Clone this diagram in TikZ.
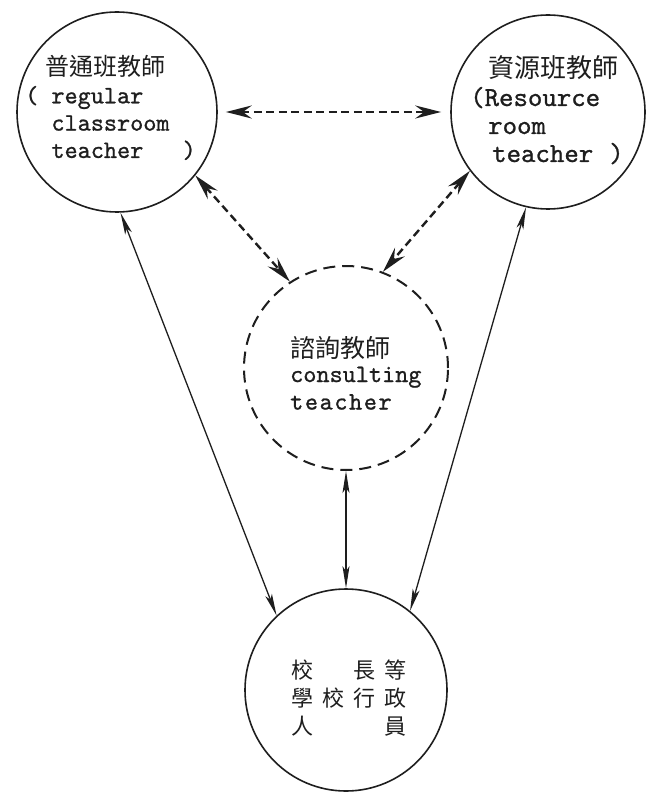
\documentclass[tikz,border=0pt]{standalone}
\usepackage{fontspec}
\newfontfamily\cjk{Noto Sans CJK TC}
\newfontfamily\mono{lmmono10-regular}[Extension=.otf, FakeBold=0.9]
\usetikzlibrary{arrows.meta}
\definecolor{ink}{HTML}{1E1E1E}
\begin{document}
\begin{tikzpicture}[x=1pt,y=-1pt,
  circ/.style={circle, draw=ink, line width=1.6pt, inner sep=0pt},
  dcirc/.style={circle, draw=ink, line width=2pt, dash pattern=on 12pt off 7pt, inner sep=0pt},
  txt/.style={inner sep=0pt, anchor=base west, text=ink},
  stip/.tip={Stealth[length=22pt,width=7pt,inset=5pt]},
  dtip/.tip={Stealth[length=26pt,width=13pt,inset=9pt]},
  solidlink/.style={draw=ink, line width=1.3pt, stip-stip},
  dashlink/.style={draw=ink, line width=2.4pt, dash pattern=on 8pt off 4.5pt, dtip-dtip}
]
\fill[white] (0,0) rectangle (646,794);
\useasboundingbox (0,0) rectangle (646,794);

% circles
\node[circ, minimum size=200pt] (L) at (117,112) {};
\node[circ, minimum size=194pt] (R) at (548,112) {};
\node[dcirc, minimum size=204pt] (M) at (346,368) {};
\node[circ, minimum size=202pt] (B) at (346,690) {};

% texts
\node[txt, font=\fontsize{25}{27.3}\selectfont\mono] (Lt) at (25,76)
  {\begin{tabular}[t]{@{}l@{}}\hspace*{20pt}{\cjk\fontsize{24}{27.3}\selectfont 普通班教師}\\
   (~regular\\
   ~~classroom\\
   ~~teacher~~~)\end{tabular}};

\node[txt, font=\fontsize{27.5}{28}\selectfont\mono] (Rt) at (470,78)
  {\begin{tabular}[t]{@{}l@{}}\hspace*{18pt}{\cjk\fontsize{26}{28}\selectfont 資源班教師}\\
   (Resource\\
   \hspace*{18pt}room\\
   \hspace*{22pt}teacher\hspace{16pt})\end{tabular}};

\node[txt, font=\fontsize{25}{27.5}\selectfont\mono] (Mt) at (290,357)
  {\begin{tabular}[t]{@{}l@{}}{\cjk 諮詢教師}\\[-2.5pt]
   consulting\\
   t\kern1.6pt e\kern1.6pt a\kern1.6pt c\kern1.6pt h\kern1.6pt e\kern1.6pt r\end{tabular}};

\node[txt, font=\cjk\fontsize{22}{28}\selectfont] (Bt) at (291,678)
  {\begin{tabular}[t]{@{}c@{\hspace{9pt}}c@{\hspace{9pt}}c@{\hspace{9pt}}c@{}}
   校 & & 長 & 等\\
   學 & 校 & 行 & 政\\
   人 & & & 員\end{tabular}};

% connectors
\draw[dashlink, shorten <=8pt, shorten >=9pt] (L.east) -- (R.west);
\draw[dashlink] (L.321) -- (M.123);
\draw[dashlink] (R.217) -- (M.69);
\draw[solidlink] (L.272) -- (B.133);
\draw[solidlink] (R.257) -- (B.51);
\draw[solidlink] (M.south) -- (B.north);
\end{tikzpicture}
\end{document}
